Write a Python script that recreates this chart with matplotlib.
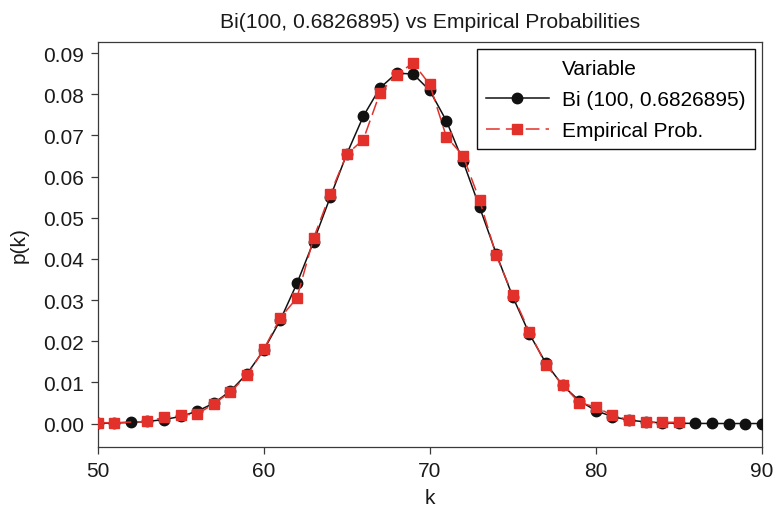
import matplotlib
matplotlib.use("Agg")
import matplotlib.pyplot as plt
from matplotlib.lines import Line2D

plt.rcParams["font.family"] = ["Liberation Sans", "DejaVu Sans"]

# Binomial probabilities p(k) for k = 50..90
k_binom = list(range(50, 91))
p_binom = [0.00006, 0.00013, 0.00026, 0.00051, 0.00096, 0.00173, 0.00299, 0.00496,
           0.00792, 0.01212, 0.01782, 0.02514, 0.03403, 0.04416, 0.05493, 0.06545,
           0.07468, 0.08153, 0.08513, 0.08494, 0.08093, 0.07357, 0.06376, 0.05261,
           0.04130, 0.03080, 0.02180, 0.01462, 0.00928, 0.00556, 0.00314, 0.00167,
           0.00083, 0.00039, 0.00017, 0.00007, 0.00003, 0.00001, 0.0, 0.0, 0.0]

# Empirical relative frequencies (k = 52 never observed)
k_emp = [50, 51, 53, 54, 55, 56, 57, 58, 59, 60, 61, 62, 63, 64, 65, 66, 67, 68,
         69, 70, 71, 72, 73, 74, 75, 76, 77, 78, 79, 80, 81, 82, 83, 84, 85]
p_emp = [0.0002, 0.0002, 0.0005, 0.0015, 0.0021, 0.0023, 0.0048, 0.0077, 0.0117,
         0.0180, 0.0257, 0.0305, 0.0450, 0.0557, 0.0654, 0.0690, 0.0803, 0.0848,
         0.0876, 0.0824, 0.0697, 0.0651, 0.0543, 0.0409, 0.0312, 0.0223, 0.0142,
         0.0094, 0.0051, 0.0040, 0.0020, 0.0009, 0.0003, 0.0003, 0.0003]

x_ticks = [50, 60, 70, 80, 90]
y_ticks = [0.00, 0.01, 0.02, 0.03, 0.04, 0.05, 0.06, 0.07, 0.08, 0.09]

title = "Bi(100, 0.6826895) vs Empirical Probabilities"
label_binom = "Bi (100, 0.6826895)"
label_emp = "Empirical Prob."

BLACK = "#111111"
RED = "#E2302A"
FRAME = "#3a3a3a"
TEXT = "#1a1a1a"

fig = plt.figure(figsize=(7.75, 5.10), dpi=100)
ax = fig.add_axes([0.126, 0.1216, 0.857, 0.794])

ax.plot(k_binom, p_binom, color=BLACK, lw=1.1, marker="o", markersize=7.5,
        markerfacecolor=BLACK, markeredgecolor=BLACK, zorder=3)
ax.plot(k_emp, p_emp, color=RED, lw=1.1, dashes=(9, 4), marker="s", markersize=7,
        markerfacecolor=RED, markeredgecolor=RED, zorder=4)

ax.set_xlim(50, 90)
ax.set_ylim(-0.0057, 0.0927)
ax.set_xticks(x_ticks)
ax.set_yticks(y_ticks)
ax.set_xticklabels([str(v) for v in x_ticks])
ax.set_yticklabels([f"{v:.2f}" for v in y_ticks])
ax.tick_params(direction="out", length=5, width=0.9, color=FRAME,
               labelsize=15, pad=5, labelcolor=TEXT)
for s in ax.spines.values():
    s.set_color(FRAME)
    s.set_linewidth(0.9)

ax.set_title(title, fontsize=15.2, color=TEXT, pad=11)
ax.set_xlabel("k", fontsize=15, color=TEXT, labelpad=6)
ax.set_ylabel("p(k)", fontsize=15, color=TEXT, labelpad=10)

# Legend with a heading row aligned to the entry labels
handles = [
    Line2D([], [], linestyle="none", marker=None),
    Line2D([], [], color=BLACK, lw=1.1, marker="o", markersize=7.5),
    Line2D([], [], color=RED, lw=1.1, dashes=(9, 4), marker="s", markersize=6.5),
]
labels = ["Variable", label_binom, label_emp]
leg = ax.legend(handles, labels, loc="upper right", fontsize=15, frameon=True,
                fancybox=False, edgecolor="#111111", framealpha=1,
                handlelength=3.0, handletextpad=0.62, borderpad=0.45,
                labelspacing=0.58, borderaxespad=0.35)
leg.get_frame().set_linewidth(1.0)

fig.savefig("out.png", dpi=100)
